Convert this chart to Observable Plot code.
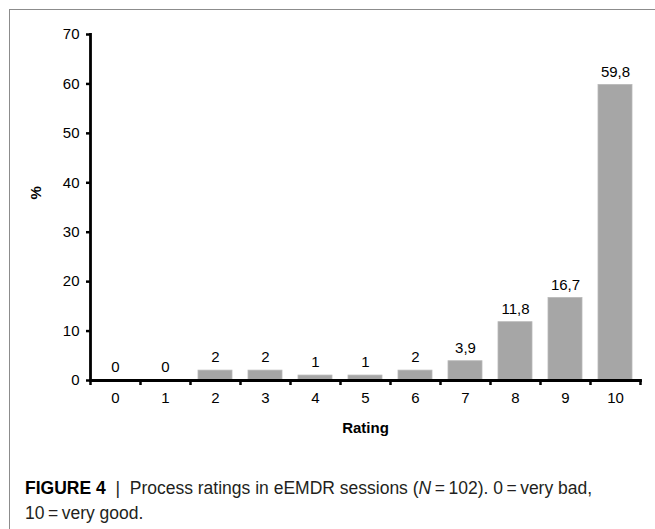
<!DOCTYPE html>
<html>
<head>
<meta charset="utf-8">
<script src="https://cdn.jsdelivr.net/npm/d3@7"></script>
<script src="https://cdn.jsdelivr.net/npm/@observablehq/plot@0.6"></script>
<style>
  html, body { margin: 0; padding: 0; background: #fff; }
  #wrap { position: relative; width: 655px; height: 529px; overflow: hidden; }
  #border { position: absolute; left: 9px; top: 9px; width: 700px; height: 600px;
            border-top: 1.5px solid #8c8c8c; border-left: 1.5px solid #8c8c8c; box-sizing: border-box; }
  #chart { position: absolute; left: 0; top: 0; }
  #caption { position: absolute; left: 25px; top: 476px; width: 625px; white-space: nowrap;
             font-family: "Liberation Sans", Arial, sans-serif; font-size: 17.5px; line-height: 25px; color: #231f20; }
  #caption b { font-weight: bold; color: #000; }
</style>
</head>
<body>
<div id="wrap">
  <div id="border"></div>
  <div id="chart"></div>
  <div id="caption"><b>FIGURE 4</b>&nbsp; | &nbsp;Process ratings in eEMDR sessions (<i>N</i>&#8201;=&#8201;102). 0&#8201;=&#8201;very bad,<br>10&#8201;=&#8201;very good.</div>
</div>
<script>
const ratings = ["0","1","2","3","4","5","6","7","8","9","10"];
const percents = [0, 0, 2, 2, 1, 1, 2, 3.9, 11.8, 16.7, 59.8];
const yTicks = [0, 10, 20, 30, 40, 50, 60, 70];

const data = ratings.map((r, i) => ({rating: r, pct: percents[i]}));
const fmt = v => String(v).replace(".", ",");
const font = "Liberation Sans, Arial, sans-serif";

const chart = Plot.plot({
  width: 655,
  height: 465,
  marginLeft: 90,
  marginRight: 15,
  marginTop: 34,
  marginBottom: 85,
  style: {fontFamily: font, fontSize: "15px", color: "#000", background: "transparent"},
  x: {domain: ratings, paddingInner: 0.32, paddingOuter: 0.16, label: null},
  y: {domain: [0, 70], label: null},
  marks: [
    Plot.barY(data, {x: "rating", y: "pct", fill: "#a6a6a6", stroke: "#b9b9b9", strokeWidth: 0.8}),
    Plot.text(data, {x: "rating", y: "pct", text: d => fmt(d.pct), dy: -13, fontSize: 15, fill: "#000"}),
    Plot.axisY({ticks: yTicks, tickSize: 4, tickPadding: 7, strokeWidth: 2.5, fontSize: 15, label: null}),
    Plot.axisX({tickSize: 0, tickPadding: 12, fontSize: 15, label: null}),
    Plot.axisX({tickSize: 5, tickFormat: () => "", dx: -25, strokeWidth: 2.5, label: null}),
    Plot.axisX({ticks: [ratings[ratings.length - 1]], tickSize: 5, tickFormat: () => "", dx: 25, strokeWidth: 2.5, label: null}),
    Plot.frame({anchor: "left", stroke: "#000", strokeWidth: 2.8}),
    Plot.frame({anchor: "bottom", stroke: "#000", strokeWidth: 2.8}),
    Plot.text(["%"], {frameAnchor: "left", dx: -54, dy: -8, rotate: -90, fontWeight: "bold", fontSize: 15}),
    Plot.text(["Rating"], {frameAnchor: "bottom", dy: 52, fontWeight: "bold", fontSize: 15})
  ]
});
document.getElementById("chart").appendChild(chart);
</script>
</body>
</html>
